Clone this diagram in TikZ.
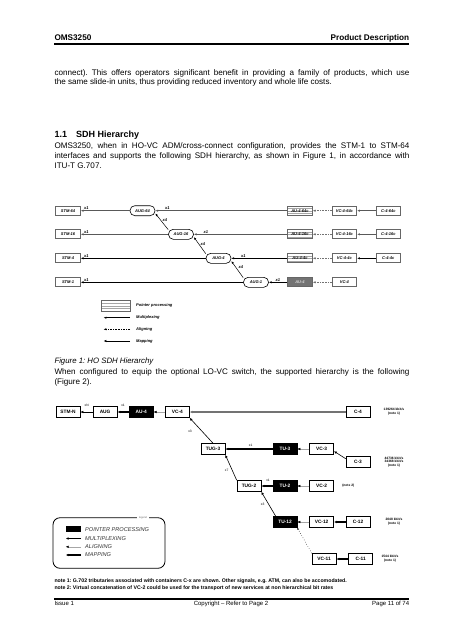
\documentclass[tikz,border=0pt]{standalone}
\usepackage{fontspec}
\setmainfont{Liberation Sans}
\usetikzlibrary{arrows.meta,positioning}

\newcommand{\txtbody}{\fontsize{8.1}{9.5}\selectfont}
\newcommand{\txthead}{\fontsize{8.2}{9}\selectfont\bfseries}
\newcommand{\txtsmall}{\fontsize{3.3}{3.8}\selectfont\bfseries}
\frenchspacing

\tikzset{
  line/.style={anchor=base west, inner sep=0pt, font=\txtbody},
  % figure 1 (HO)
  hobox/.style={draw=black!60, line width=0.9pt, fill=white, minimum width=24.5pt,
    minimum height=9pt, inner sep=0pt, font=\fontsize{4}{4.5}\selectfont\bfseries\itshape},
  augbox/.style={hobox, draw=black, line width=0.6pt, rounded corners=4.8pt,
    minimum width=25pt, minimum height=10pt},
  ptrbox/.style={hobox, path picture={
      \foreach \dy in {-2.4pt,0pt,2.4pt}
        \draw[black!35, line width=0.3pt] ([yshift=\dy]path picture bounding box.west)
          -- ([yshift=\dy]path picture bounding box.east);}},
  ptrdark/.style={hobox, fill=black!55, text=black!15},
  hotag/.style={inner sep=0pt, font=\fontsize{4}{4.5}\selectfont\bfseries\itshape},
  hmux/.style={-{Latex[length=2.8pt,width=2.2pt]}, line width=0.5pt},
  hmuxg/.style={hmux, draw=black!65, line width=0.9pt},
  halign/.style={hmux, draw=black!55, dash pattern=on 1.6pt off 1pt},
  % figure 2 (LO)
  lobox/.style={draw=black, line width=0.6pt, fill=white, minimum width=24pt,
    minimum height=11pt, inner sep=0pt, font=\fontsize{4.8}{5.5}\selectfont\bfseries},
  lodark/.style={lobox, fill=black, text=white},
  lotag/.style={inner sep=0pt, font=\fontsize{3.3}{3.8}\selectfont},
  lomux/.style={-{Latex[length=3pt,width=2.6pt]}, line width=0.6pt},
  lomap/.style={lomux, line width=1.1pt},
  loalign/.style={-{Latex[length=3pt,width=2.6pt,color=black]}, draw=black!35, line width=0.5pt},
  lolegend/.style={anchor=west, inner sep=0pt, text=black!80,
    font=\fontsize{5.6}{6}\selectfont\itshape}
}

\begin{document}
\begin{tikzpicture}[x=1pt,y=-1pt]
\useasboundingbox[fill=white] (0,0) rectangle (452,640);
% page header
\node[anchor=base west, inner sep=0pt, font=\txthead] (hdl) at (54.3,40.6) {OMS3250};
\node[anchor=base east, inner sep=0pt, font=\txthead] (hdr) at (409.3,40.6) {Product Description};
\coordinate (hrl) at (54.3,43.8); \coordinate (hrr) at (409.3,43.8);
\draw[line width=1.6pt] (hrl) -- (hrr);
%----------------------------------
\node[line] (t1) at (54.3,75.3) {\hbox to 355pt{connect). This offers operators significant benefit in providing a family of products, which use}};
\node[line] (t2) at (54.3,84.8) {the same slide-in units, thus providing reduced inventory and whole life costs.};
\node[anchor=base west, inner sep=0pt, font=\fontsize{9}{10}\selectfont\bfseries] (s1) at (54.3,137.6) {1.1};
\node[anchor=base west, inner sep=0pt, font=\fontsize{9}{10}\selectfont\bfseries] (s2) at (76,137.6) {SDH Hierarchy};
\node[line] (p1) at (54.3,148.4) {\hbox to 355pt{OMS3250, when in HO-VC ADM/cross-connect configuration, provides the STM-1 to STM-64}};
\node[line] (p2) at (54.3,158.3) {\hbox to 355pt{interfaces and supports the following SDH hierarchy, as shown in Figure 1, in accordance with}};
\node[line] (p3) at (54.3,168.2) {ITU-T G.707.};
%----------------------------------
% figure 1
\node[hobox] (stm64) at (68,210.7) {STM-64};
\node[hobox] (stm16) at (68,234.3) {STM-16};
\node[hobox] (stm4) at (68,258.3) {STM-4};
\node[hobox] (stm1) at (68,282.3) {STM-1};
\node[augbox] (aug64) at (142.5,210.7) {AUG-64};
\node[augbox] (aug16) at (181,234.3) {AUG-16};
\node[augbox] (aug4) at (218.5,258.3) {AUG-4};
\node[augbox] (aug1) at (256,282.3) {AUG-1};
\node[ptrbox] (au64) at (300,210.7) {AU-4-64c};
\node[hobox, right=19pt of au64] (vc64) {VC-4-64c};
\node[hobox, right=18.5pt of vc64] (c64) {C-4-64c};
\node[ptrbox] (au16) at (300,234.3) {AU-4-16c};
\node[hobox, right=19pt of au16] (vc16) {VC-4-16c};
\node[hobox, right=18.5pt of vc16] (c16) {C-4-16c};
\node[ptrbox] (au4) at (300,258.3) {AU-4-4c};
\node[hobox, right=19pt of au4] (vc4c) {VC-4-4c};
\node[hobox, right=18.5pt of vc4c] (c4c) {C-4-4c};
\node[ptrdark] (au1) at (300,282.3) {AU-4};
\node[hobox, right=19pt of au1] (vc1) {VC-4};
%----------------------------------
\draw[hmuxg] (aug64) -- (stm64);
\draw[hmuxg] (au64) -- (aug64);
\draw[halign] (vc64) -- (au64);
\draw[hmuxg] (c64) -- (vc64);
\draw[hmuxg] (aug16) -- (stm16);
\draw[hmuxg] (au16) -- (aug16);
\draw[halign] (vc16) -- (au16);
\draw[hmuxg] (c16) -- (vc16);
\draw[hmux] (aug4) -- (stm4);
\draw[hmux] (au4) -- (aug4);
\draw[halign] (vc4c) -- (au4);
\draw[hmux] (c4c) -- (vc4c);
\draw[hmux] (aug1) -- (stm1);
\draw[hmux] (au1) -- (aug1);
\draw[halign] (vc1) -- (au1);
\draw[hmux] (aug16.160) -- (aug64.-12);
\draw[hmux] (aug4.160) -- (aug16.-12);
\draw[hmux] (aug1.160) -- (aug4.-12);
%----------------------------------
\foreach \nm/\yy in {a/210.7,b/234.3,c/258.3,d/282.3}
  \node[hotag, anchor=south west] (x\nm) at (84,\yy-0.9) {x1};
\node[hotag, anchor=south west] (xa1) at (165,209.8) {x1};
\node[hotag, anchor=south west] (xb1) at (203.5,233.4) {x1};
\node[hotag, anchor=south west] (xc1) at (241,257.4) {x1};
\node[hotag, anchor=south west] (xd1) at (275.5,281.4) {x1};
\node[hotag, anchor=west] (xa4) at (162.5,220.5) {x4};
\node[hotag, anchor=west] (xb4) at (200.5,244) {x4};
\node[hotag, anchor=west] (xc4) at (238.5,267.5) {x4};
% legend 1
\node[ptrbox, minimum width=29pt, minimum height=11.5pt] (lgp) at (115.5,305.8) {};
\node[hotag, anchor=west] (lgpt) at (136,305.8) {Pointer processing};
\coordinate (lgma) at (130,317.7); \coordinate (lgmb) at (103.5,317.7);
\draw[hmux, line width=0.7pt] (lgma) -- (lgmb);
\node[hotag, anchor=west] (lgmt) at (136,317.7) {Multiplexing};
\coordinate (lgaa) at (130,329.3); \coordinate (lgab) at (103.5,329.3);
\draw[halign, draw=black] (lgaa) -- (lgab);
\node[hotag, anchor=west] (lgat) at (136,329.3) {Aligning};
\coordinate (lgna) at (130,341); \coordinate (lgnb) at (103.5,341);
\draw[hmux] (lgna) -- (lgnb);
\node[hotag, anchor=west] (lgnt) at (136,341) {Mapping};
%----------------------------------
\node[line, font=\fontsize{7.8}{9}\selectfont\itshape] (cap1) at (54.3,363) {Figure 1: HO SDH Hierarchy};
\node[line] (w1) at (54.3,374.7) {\hbox to 355pt{When configured to equip the optional LO-VC switch, the supported hierarchy is the following}};
\node[line] (w2) at (54.3,384.4) {(Figure 2).};
%----------------------------------
% figure 2
\node[lobox] (stmn) at (68,412) {STM-N};
\node[lobox, right=12.5pt of stmn] (aug) {AUG};
\node[lodark, right=11.5pt of aug] (au4) {AU-4};
\node[lobox, right=11.5pt of au4] (vc4) {VC-4};
\node[lobox] (c4) at (358,412) {C-4};
\node[lobox] (tug3) at (213,449) {TUG-3};
\node[lodark] (tu3) at (285,449) {TU-3};
\node[lobox, right=12pt of tu3] (vc3) {VC-3};
\node[lobox] (c3) at (358,462) {C-3};
\node[lobox] (tug2) at (249,486) {TUG-2};
\node[lodark] (tu2) at (285,486) {TU-2};
\node[lobox, right=12pt of tu2] (vc2) {VC-2};
\node[lodark] (tu12) at (285,522) {TU-12};
\node[lobox, right=12pt of tu12] (vc12) {VC-12};
\node[lobox] (c12) at (358,522) {C-12};
\node[lobox] (vc11) at (324,559) {VC-11};
\node[lobox, right=12pt of vc11] (c11) {C-11};
%----------------------------------
\draw[lomux] (aug) -- (stmn);
\draw[lomap] (au4) -- (aug);
\draw[loalign] (vc4) -- (au4);
\draw[lomux, draw=black!55, line width=1.2pt] (c4) -- (vc4);
\draw[lomux] (tug3.north) -- (vc4.south east);
\draw[lomap] (tu3) -- (tug3);
\draw[loalign] (vc3) -- (tu3);
\draw[lomux] (c3.165) -- (vc3.-10);
\draw[lomux] (tug2.north west) -- (tug3.south east);
\draw[lomap] (tu2) -- (tug2);
\draw[loalign] (vc2) -- (tu2);
\draw[lomux] ([xshift=3pt]tu12.north west) -- (tug2.south east);
\draw[loalign] (vc12) -- (tu12);
\draw[lomap] (c12) -- (vc12);
\draw[-{Latex[length=2pt,width=1.8pt]}, line width=0.5pt, dotted] (vc11.north west) -- (tu12.south east);
\draw[lomap] (c11) -- (vc11);
%----------------------------------
\node[lotag] (xn) at (86.7,405.4) {xN};
\node[lotag] (x1a) at (123,405) {x1};
\node[lotag] (x3a) at (190,431.7) {x3};
\node[lotag] (x1b) at (250.7,445) {x1};
\node[lotag] (x7) at (226.7,470) {x7};
\node[lotag] (x1c) at (268,480.5) {x1};
\node[lotag] (x3b) at (262.7,504) {x3};
\node[align=center, inner sep=0pt, font=\txtsmall] (r4) at (394,412) {139264 kbit/s\\(note 1)};
\node[align=center, inner sep=0pt, font=\txtsmall] (r3) at (394,462) {44736 kbit/s\\34368 kbit/s\\(note 1)};
\node[inner sep=0pt, font=\txtsmall] (r2) at (348.3,486) {(note 2)};
\node[align=center, inner sep=0pt, font=\txtsmall] (r12) at (394,522) {2048 kbit/s\\(note 1)};
\node[align=center, inner sep=0pt, font=\txtsmall] (r11) at (390,559) {1544 kbit/s\\(note 1)};
% legend 2
\coordinate (lga) at (53,517.7); \coordinate (lgb) at (165,568.3);
\draw[line width=0.8pt, rounded corners=7pt] (lga) rectangle (lgb);
\node[fill=white, inner xsep=2pt, inner ysep=0.5pt, font=\fontsize{2.6}{3}\selectfont, text=black!60] (lgw) at (143,517.7) {legend};
\coordinate (lbk1) at (65.7,526); \coordinate (lbk2) at (81,531.7);
\fill (lbk1) rectangle (lbk2);
\node[lolegend] (lg1) at (85,529.6) {POINTER PROCESSING};
\coordinate (lm1) at (81,538.5); \coordinate (lm2) at (65.7,538.5);
\draw[lomux] (lm1) -- (lm2);
\node[lolegend] (lg2) at (85,538.5) {MULTIPLEXING};
\coordinate (la1) at (81,546.8); \coordinate (la2) at (65.7,546.8);
\draw[loalign] (la1) -- (la2);
\node[lolegend] (lg3) at (85,546.8) {ALIGNING};
\coordinate (lp1) at (81,555); \coordinate (lp2) at (65.7,555);
\draw[lomap] (lp1) -- (lp2);
\node[lolegend] (lg4) at (85,555) {MAPPING};
%----------------------------------
\node[anchor=base west, inner sep=0pt, font=\fontsize{5.2}{6}\selectfont\bfseries] (n1) at (54.3,582.6) {note 1: G.702 tributaries associated with containers C-x are shown. Other signals, e.g. ATM, can also be accomodated.};
\node[anchor=base west, inner sep=0pt, font=\fontsize{5.2}{6}\selectfont\bfseries] (n2) at (54.3,589.4) {note 2: Virtual concatenation of VC-2 could be used for the transport of new services at non hierarchical bit rates};
% page footer
\coordinate (frl) at (54.3,598.8); \coordinate (frr) at (409.3,598.8);
\draw[line width=1.8pt] (frl) -- (frr);
\node[anchor=base west, inner sep=0pt, font=\fontsize{6}{7}\selectfont] (f1) at (54.3,605.6) {Issue 1};
\node[anchor=base, inner sep=0pt, font=\fontsize{6}{7}\selectfont] (f2) at (231,605.6) {Copyright -- Refer to Page 2};
\node[anchor=base east, inner sep=0pt, font=\fontsize{6}{7}\selectfont] (f3) at (409.3,605.6) {Page 11 of 74};
\end{tikzpicture}
\end{document}
